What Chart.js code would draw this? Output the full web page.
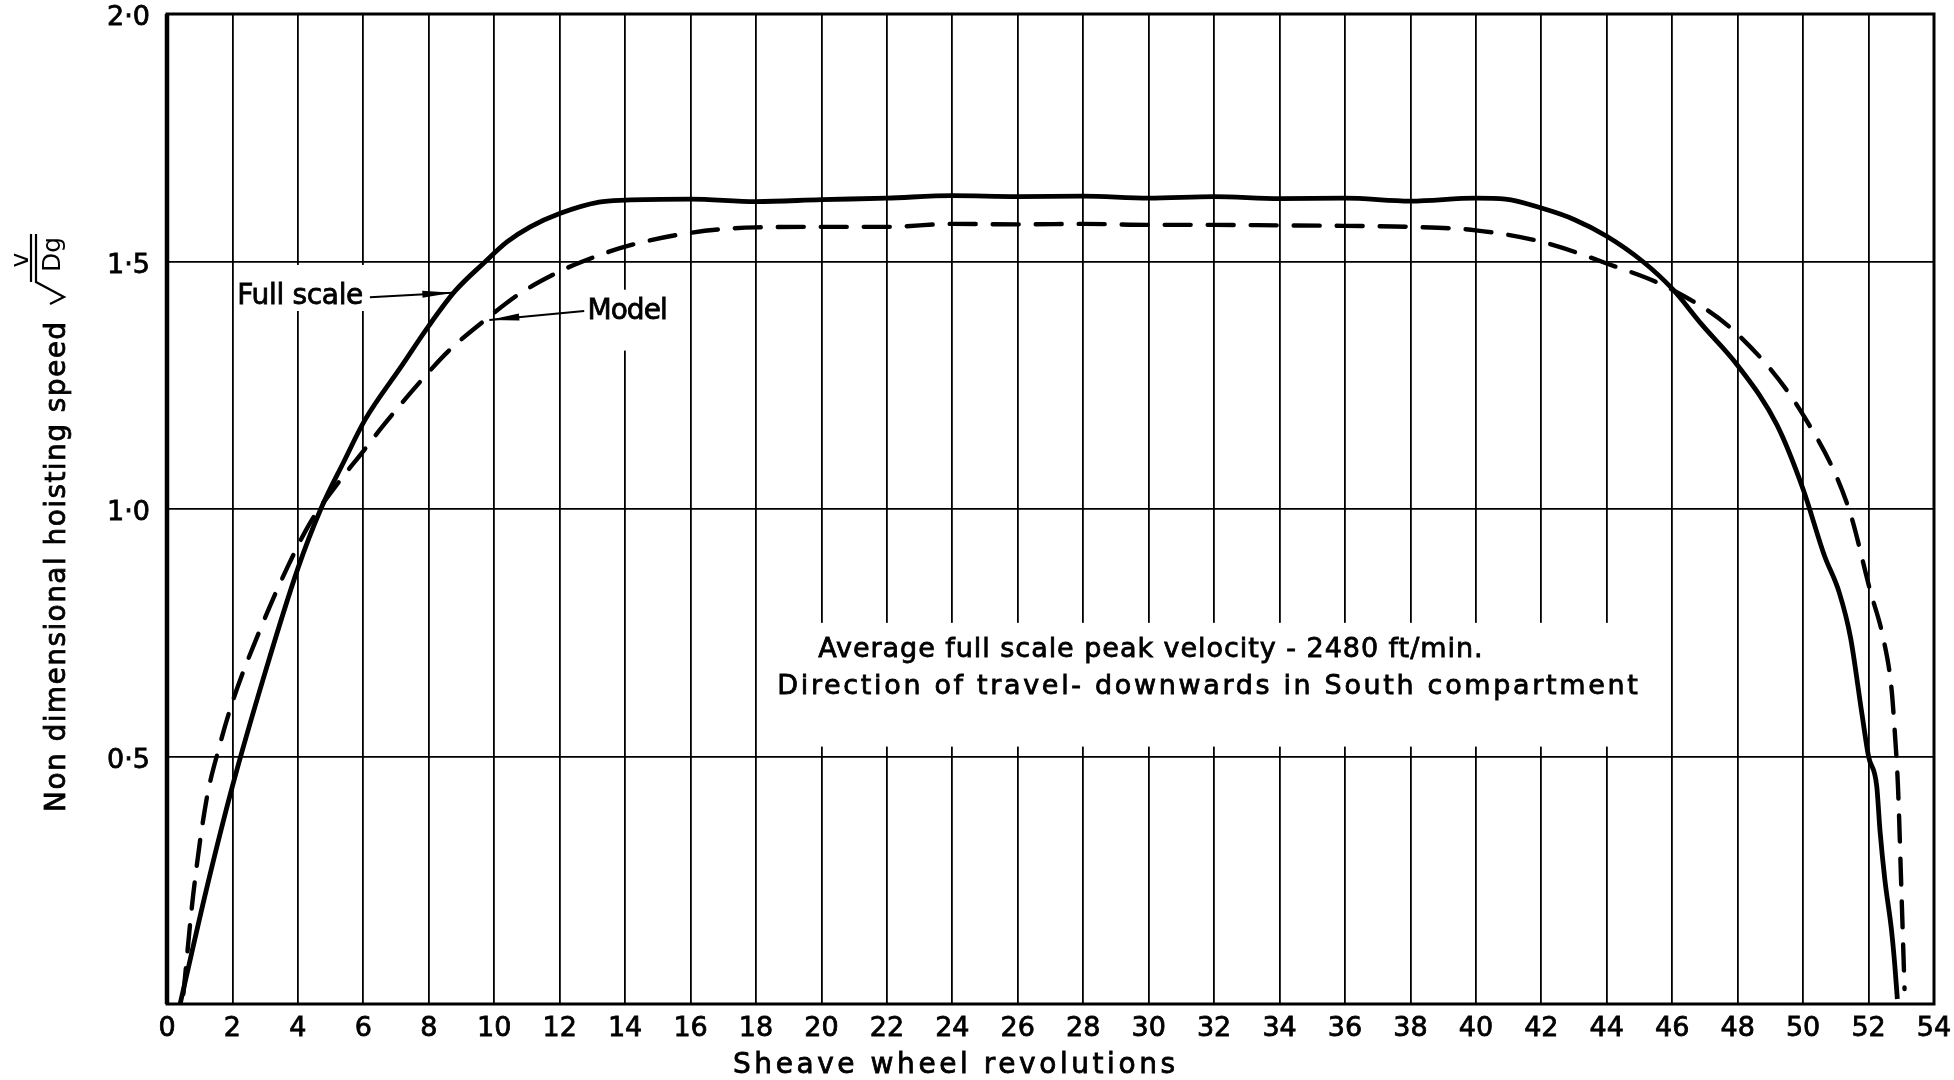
<!DOCTYPE html>
<html lang="en">

<head>
  <meta charset="UTF-8">
  <title>Non dimensional hoisting speed</title>
  <script src="https://cdn.jsdelivr.net/npm/chart.js@4.4.4/dist/chart.umd.min.js"></script>
  <style>
    html, body { margin: 0; padding: 0; background: #fff; }
    #wrap { width: 1954px; height: 1080px; }
  </style>
</head>

<body>
  <div id="wrap"><canvas id="speedChart" width="1954" height="1080"></canvas></div>

  <script>
    // Sheave wheel revolutions against non dimensional speed v / sqrt(Dg)
    const fullScaleRev = [0.4, 1.2, 2.0, 3.0, 4.0, 4.7, 5.4, 6.05, 7.15, 8.0, 8.8, 9.7, 10.4, 11.1, 12.0, 13.2,
      14, 16, 18, 20, 22, 24, 26, 28, 30, 32, 34, 36, 38, 40, 40.9, 42, 43, 44, 45.1, 46, 46.9, 48, 49.2,
      50, 50.65, 51.1, 51.45, 51.8, 52.0, 52.25, 52.35, 52.5, 52.7, 52.8, 52.88];
    const fullScaleSpeed = [0, 0.23, 0.44, 0.67, 0.88, 1.0, 1.095, 1.18, 1.287, 1.37, 1.44, 1.498, 1.54, 1.57, 1.597, 1.62,
      1.624, 1.626, 1.621, 1.625, 1.628, 1.633, 1.631, 1.632, 1.628, 1.631, 1.627, 1.628, 1.622, 1.628, 1.626, 1.608, 1.585, 1.551, 1.5, 1.445, 1.373, 1.29, 1.17,
      1.04, 0.906, 0.832, 0.74, 0.585, 0.5, 0.44, 0.35, 0.25, 0.15, 0.08, 0.01];

    const modelRev = [0.5, 0.8, 1.2, 1.6, 2.0, 2.9, 3.7, 4.4, 5.2, 6.0, 6.6, 7.75, 8.6, 9.8, 10.8, 12.0, 12.7,
      14, 16, 18, 20, 22, 24, 26, 28, 30, 32, 34, 36, 38, 40, 42, 44, 46, 48, 50,
      51.4, 52.05, 52.45, 52.7, 52.8, 52.9, 53.0, 53.1];
    const modelSpeed = [0.02, 0.22, 0.41, 0.52, 0.61, 0.765, 0.885, 0.975, 1.05, 1.117, 1.168, 1.258, 1.319, 1.386, 1.436, 1.48, 1.5,
      1.53, 1.558, 1.569, 1.57, 1.57, 1.576, 1.575, 1.576, 1.574, 1.574, 1.573, 1.572, 1.57, 1.563, 1.54, 1.496, 1.443, 1.353, 1.19,
      1.0, 0.835, 0.739, 0.638, 0.551, 0.438, 0.237, 0.03];

    const revRange = [0, 54];
    const revStep = 2;
    const speedRange = [0, 2];
    const speedStep = 0.5;

    const noteLines = [
      'Average full scale peak velocity - 2480 ft/min.',
      'Direction of travel- downwards in South compartment'
    ];

    const FONT = '"DejaVu Sans", "Liberation Sans", sans-serif';

    const toPoints = (xs, ys) => xs.map((x, i) => ({ x: x, y: ys[i] }));

    // draw text stretched (letter spacing) to a given width, slightly heavier stroke
    function fitText(ctx, text, left, baseline, width) {
      ctx.letterSpacing = '0px';
      const w = ctx.measureText(text).width;
      const extra = (width - w) / Math.max(1, text.length - 1);
      ctx.letterSpacing = extra.toFixed(2) + 'px';
      ctx.fillText(text, left, baseline);
      ctx.lineWidth = 0.8;
      ctx.strokeText(text, left, baseline);
      ctx.letterSpacing = '0px';
    }

    function arrow(ctx, x0, y0, x1, y1) {
      const ang = Math.atan2(y1 - y0, x1 - x0);
      ctx.lineWidth = 2;
      ctx.beginPath();
      ctx.moveTo(x0, y0);
      ctx.lineTo(x1, y1);
      ctx.stroke();
      ctx.save();
      ctx.translate(x1, y1);
      ctx.rotate(ang);
      ctx.beginPath();
      ctx.moveTo(0, 0);
      ctx.lineTo(-30, -3.5);
      ctx.lineTo(-30, 3.5);
      ctx.closePath();
      ctx.fill();
      ctx.restore();
    }

    const paperNotes = {
      id: 'paperNotes',
      // white boxes that break the grid behind the lettering
      beforeDatasetsDraw(chart) {
        const { ctx, scales: { x, y } } = chart;
        const boxes = [
          [2.1, 7.0, 1.493, 1.4],
          [12.8, 15.6, 1.443, 1.32],
          [19.0, 45.0, 0.77, 0.52]
        ];
        ctx.save();
        ctx.fillStyle = '#fff';
        boxes.forEach(b => {
          const x0 = x.getPixelForValue(b[0]);
          const x1 = x.getPixelForValue(b[1]);
          const y0 = y.getPixelForValue(b[2]);
          const y1 = y.getPixelForValue(b[3]);
          ctx.fillRect(x0, y0, x1 - x0, y1 - y0);
        });
        ctx.restore();
      },
      afterDatasetsDraw(chart) {
        const { ctx, chartArea: a, scales: { x, y } } = chart;
        const px = v => x.getPixelForValue(v);
        const py = v => y.getPixelForValue(v);

        ctx.save();
        ctx.strokeStyle = '#000';
        ctx.fillStyle = '#000';

        // frame
        ctx.lineWidth = 3;
        ctx.strokeRect(a.left, a.top, a.right - a.left, a.bottom - a.top);
        ctx.lineWidth = 4.5;
        ctx.beginPath();
        ctx.moveTo(a.left, a.top);
        ctx.lineTo(a.left, a.bottom);
        ctx.stroke();

        // curve labels
        ctx.font = '28px ' + FONT;
        ctx.textBaseline = 'alphabetic';
        fitText(ctx, 'Full scale', px(2.15), py(1.414), px(6.0) - px(2.15));
        fitText(ctx, 'Model', px(12.85), py(1.384), px(15.3) - px(12.85));
        arrow(ctx, px(6.2), py(1.428), px(8.72), py(1.437));
        arrow(ctx, px(12.75), py(1.4), px(9.85), py(1.382));

        // notes
        ctx.font = '27px ' + FONT;
        fitText(ctx, noteLines[0], px(19.9), py(0.702), px(40.2) - px(19.9));
        fitText(ctx, noteLines[1], px(18.65), py(0.627), px(44.95) - px(18.65));

        // x axis title
        ctx.font = '28px ' + FONT;
        fitText(ctx, 'Sheave wheel revolutions', 733, 1073, 442);

        // y axis title with v / sqrt(Dg)
        ctx.save();
        ctx.translate(65, 812);
        ctx.rotate(-Math.PI / 2);
        ctx.font = '28px ' + FONT;
        fitText(ctx, 'Non dimensional hoisting speed', 0, 0, 490);
        ctx.font = '25px ' + FONT;
        ctx.letterSpacing = '0px';
        ctx.fillText('Dg', 540, -5);
        ctx.textAlign = 'center';
        ctx.fillText('v', 552, -37);
        ctx.lineWidth = 2.2;
        ctx.beginPath();
        ctx.moveTo(508, -15);
        ctx.lineTo(515, -1);
        ctx.lineTo(530, -29);
        ctx.lineTo(578, -29);
        ctx.stroke();
        ctx.beginPath();
        ctx.moveTo(530, -34);
        ctx.lineTo(578, -34);
        ctx.stroke();
        ctx.restore();

        ctx.restore();
      }
    };

    new Chart(document.getElementById('speedChart'), {
      type: 'line',
      data: {
        datasets: [{
          label: 'Full scale',
          data: toPoints(fullScaleRev, fullScaleSpeed),
          borderColor: '#000',
          borderWidth: 4.8,
          cubicInterpolationMode: 'monotone',
          pointRadius: 0,
          fill: false
        }, {
          label: 'Model',
          data: toPoints(modelRev, modelSpeed),
          borderColor: '#000',
          borderWidth: 4.4,
          borderDash: [26, 17],
          borderCapStyle: 'round',
          cubicInterpolationMode: 'monotone',
          pointRadius: 0,
          fill: false
        }]
      },
      options: {
        responsive: false,
        animation: false,
        events: [],
        layout: { padding: { top: 14, right: 20, left: 0, bottom: 0 } },
        plugins: {
          legend: { display: false },
          tooltip: { enabled: false }
        },
        scales: {
          x: {
            type: 'linear',
            min: revRange[0],
            max: revRange[1],
            afterFit: s => {
              s.height = 76;
              s.paddingLeft = 0;
              s.paddingRight = 0;
            },
            grid: { color: '#000', lineWidth: 1.8, drawTicks: false },
            border: { display: false },
            ticks: {
              stepSize: revStep,
              autoSkip: false,
              maxRotation: 0,
              padding: 9,
              color: '#000',
              textStrokeColor: '#000',
              textStrokeWidth: 0.8,
              font: { family: FONT, size: 27 }
            }
          },
          y: {
            min: speedRange[0],
            max: speedRange[1],
            afterFit: s => {
              s.width = 167;
              s.paddingTop = 0;
              s.paddingBottom = 0;
            },
            grid: { color: '#000', lineWidth: 1.8, drawTicks: false },
            border: { display: false },
            ticks: {
              stepSize: speedStep,
              padding: 17,
              labelOffset: 4,
              color: '#000',
              textStrokeColor: '#000',
              textStrokeWidth: 0.8,
              font: { family: FONT, size: 27, lineHeight: 1 },
              callback: v => v === 0 ? '' : v.toFixed(1).replace('.', '\u00b7')
            }
          }
        }
      },
      plugins: [paperNotes]
    });
  </script>
</body>
</html>
